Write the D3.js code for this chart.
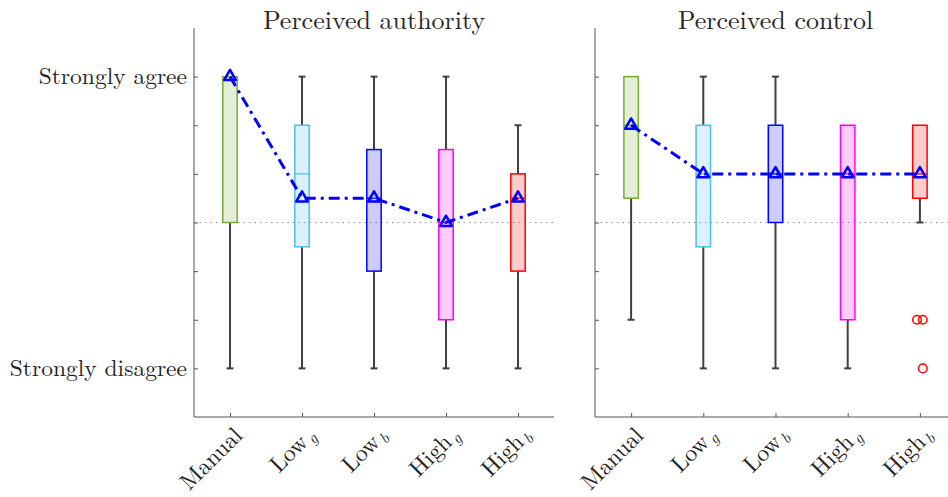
<!DOCTYPE html>
<html>
<head>
<meta charset="utf-8">
<script src="https://cdn.jsdelivr.net/npm/d3@7"></script>
<style>
  html, body { margin: 0; padding: 0; background: #fff; }
  svg { display: block; }
  text { font-family: "Latin Modern Roman", "CMU Serif", "Liberation Serif", "DejaVu Serif", serif; fill: #262626; }
</style>
</head>
<body>
<svg id="chart" width="948" height="497"></svg>
<script>
// Condition names (base text + italic subscript)
const categoryBase = ["Manual", "Low", "Low", "High", "High"];
const categorySub  = ["", "g", "b", "g", "b"];
const categoryColors = ["#77ac30", "#4dbeee", "#0000ff", "#ff00ff", "#ff0000"];

// Likert scale ticks (1..7); only the end points carry labels
const likertTicks = [1, 2, 3, 4, 5, 6, 7];
const likertLabels = { 7: "Strongly agree", 1: "Strongly disagree" };
const neutralValue = 4;

// Perceived authority: box statistics per condition
const authorityLow    = [1, 1, 1, 1, 1];
const authorityQ1     = [4, 3.5, 3, 2, 3];
const authorityMedian = [7, 5, 4.5, 4, 4.5];
const authorityQ3     = [7, 6, 5.5, 5.5, 5];
const authorityHigh   = [7, 7, 7, 7, 6];
const authorityMean   = [7, 4.5, 4.5, 4, 4.5];
const authorityOutliers = [];

// Perceived control: box statistics per condition
const controlLow    = [2, 1, 1, 1, 4];
const controlQ1     = [4.5, 3.5, 4, 2, 4.5];
const controlMedian = [6, 5, 5, 5, 5];
const controlQ3     = [7, 6, 6, 6, 6];
const controlHigh   = [7, 7, 7, 6, 6];
const controlMean   = [6, 5, 5, 5, 5];
// outliers: condition index, value, small horizontal jitter (category units)
const controlOutliers = [
  { cat: 4, value: 2, jitter: -0.04 },
  { cat: 4, value: 2, jitter: 0.04 },
  { cat: 4, value: 1, jitter: 0.04 }
];

const panels = [
  { title: "Perceived authority", left: 194, right: 554, showLabels: true,
    low: authorityLow, q1: authorityQ1, med: authorityMedian, q3: authorityQ3,
    high: authorityHigh, mean: authorityMean, outliers: authorityOutliers },
  { title: "Perceived control", left: 595, right: 956, showLabels: false,
    low: controlLow, q1: controlQ1, med: controlMedian, q3: controlQ3,
    high: controlHigh, mean: controlMean, outliers: controlOutliers }
];

const svg = d3.select("#chart");
const plotTop = 28, plotBottom = 417;
const axisColor = "#555";
const whiskerColor = "#404040";

const y = d3.scaleLinear().domain([0, 8]).range([plotBottom, plotTop]);

panels.forEach(p => {
  const g = svg.append("g");
  const x = d3.scaleLinear().domain([0.5, 5.5]).range([p.left, p.right]);
  const boxHalf = (x(1.1) - x(0.9)) / 2;
  const capHalf = 3.5;

  // title
  g.append("text")
    .attr("x", (p.left + p.right) / 2).attr("y", 29)
    .attr("text-anchor", "middle")
    .style("font-size", "26px")
    .text(p.title);

  // neutral reference line
  g.append("line")
    .attr("x1", p.left).attr("x2", p.right)
    .attr("y1", y(neutralValue)).attr("y2", y(neutralValue))
    .attr("stroke", "#999").attr("stroke-width", 1)
    .attr("stroke-dasharray", "1.5,4");

  // y axis (ticks drawn inward)
  const yAxis = d3.axisRight(y).tickValues(likertTicks).tickSize(4).tickFormat("");
  const ya = g.append("g").attr("transform", `translate(${p.left},0)`).call(yAxis);
  ya.select(".domain").remove();
  ya.selectAll(".tick line").attr("stroke", axisColor);
  g.append("line").attr("x1", p.left).attr("x2", p.left)
    .attr("y1", plotTop).attr("y2", plotBottom).attr("stroke", axisColor);

  if (p.showLabels) {
    likertTicks.filter(v => likertLabels[v]).forEach(v => {
      g.append("text")
        .attr("x", p.left - 7).attr("y", y(v))
        .attr("dy", "0.33em")
        .attr("text-anchor", "end")
        .style("font-size", "23.5px")
        .text(likertLabels[v]);
    });
  }

  // x axis (ticks drawn inward)
  const xAxis = d3.axisTop(x).tickValues([1, 2, 3, 4, 5]).tickSize(4).tickFormat("");
  const xa = g.append("g").attr("transform", `translate(0,${plotBottom})`).call(xAxis);
  xa.select(".domain").remove();
  xa.selectAll(".tick line").attr("stroke", axisColor);
  g.append("line").attr("x1", p.left).attr("x2", p.right)
    .attr("y1", plotBottom).attr("y2", plotBottom).attr("stroke", axisColor);

  // rotated category labels
  categoryBase.forEach((name, i) => {
    const t = g.append("text")
      .attr("transform", `translate(${x(i + 1) + 8},${plotBottom + 14}) rotate(-45)`)
      .attr("text-anchor", "end")
      .attr("dy", "0.35em")
      .style("font-size", "23.5px");
    t.append("tspan").text(name);
    if (categorySub[i]) {
      t.append("tspan")
        .attr("dy", "0.25em")
        .attr("dx", "2")
        .style("font-size", "16px")
        .style("font-style", "italic")
        .text(categorySub[i]);
    }
  });

  // boxes
  categoryBase.forEach((_, i) => {
    const cx = x(i + 1);
    const c = categoryColors[i];
    const bg = g.append("g");
    // whiskers (only where they extend beyond the box)
    [[p.q3[i], p.high[i]], [p.q1[i], p.low[i]]].forEach(([from, to]) => {
      if (from === to) return;
      bg.append("line").attr("x1", cx).attr("x2", cx)
        .attr("y1", y(from)).attr("y2", y(to))
        .attr("stroke", whiskerColor).attr("stroke-width", 2);
      bg.append("line").attr("x1", cx - capHalf).attr("x2", cx + capHalf)
        .attr("y1", y(to)).attr("y2", y(to))
        .attr("stroke", whiskerColor).attr("stroke-width", 2);
    });
    // box
    bg.append("rect")
      .attr("x", cx - boxHalf).attr("width", boxHalf * 2)
      .attr("y", y(p.q3[i])).attr("height", y(p.q1[i]) - y(p.q3[i]))
      .attr("fill", c).attr("fill-opacity", 0.2)
      .attr("stroke", c).attr("stroke-width", 1.5);
    // median
    bg.append("line").attr("x1", cx - boxHalf).attr("x2", cx + boxHalf)
      .attr("y1", y(p.med[i])).attr("y2", y(p.med[i]))
      .attr("stroke", c).attr("stroke-width", 1.2);
  });

  // outliers
  g.selectAll("circle.outlier").data(p.outliers).join("circle")
    .attr("class", "outlier")
    .attr("cx", d => x(d.cat + 1 + d.jitter))
    .attr("cy", d => y(d.value))
    .attr("r", 4.3)
    .attr("fill", "none").attr("stroke", "#ff0000").attr("stroke-width", 1.5);

  // mean trend line
  const line = d3.line().x((d, i) => x(i + 1)).y(d => y(d));
  g.append("path").datum(p.mean)
    .attr("d", line)
    .attr("fill", "none")
    .attr("stroke", "#0000ff").attr("stroke-width", 3)
    .attr("stroke-dasharray", "11,5,3,5");

  // triangle markers
  const tri = d3.symbol().type(d3.symbolTriangle).size(60);
  g.selectAll("path.marker").data(p.mean).join("path")
    .attr("class", "marker")
    .attr("d", tri)
    .attr("transform", (d, i) => `translate(${x(i + 1)},${y(d)})`)
    .attr("fill", "none")
    .attr("stroke", "#0000ff").attr("stroke-width", 2.5)
    .attr("stroke-linejoin", "round");
});
</script>
</body>
</html>
